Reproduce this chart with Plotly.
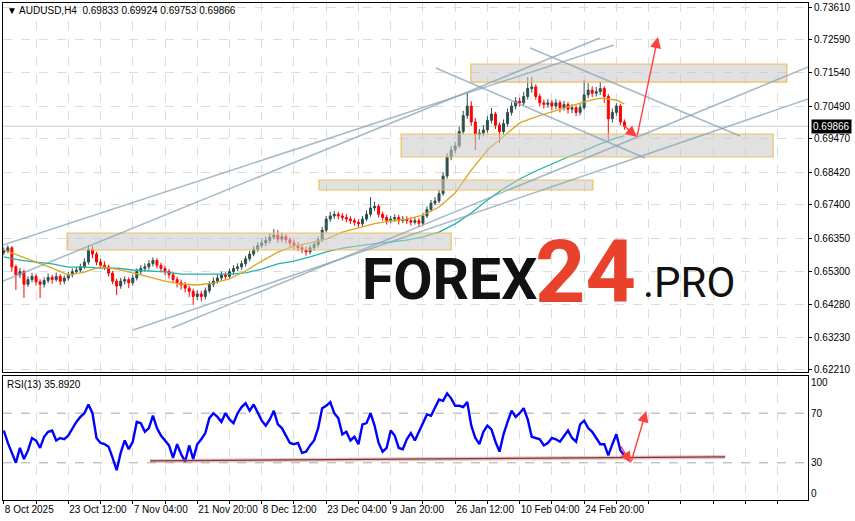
import plotly.graph_objects as go

# ---------------- data ----------------
bar_index = list(range(155))

close_ = [0.6595, 0.6605, 0.6545, 0.6520, 0.6530, 0.6490, 0.6505, 0.6515, 0.6498, 0.6490,
          0.6502, 0.6512, 0.6505, 0.6515, 0.6500, 0.6510, 0.6520, 0.6530, 0.6535, 0.6545,
          0.6560, 0.6600, 0.6585, 0.6560, 0.6550, 0.6545, 0.6525, 0.6500, 0.6485, 0.6500,
          0.6505, 0.6495, 0.6510, 0.6530, 0.6540, 0.6545, 0.6555, 0.6565, 0.6550, 0.6540,
          0.6530, 0.6520, 0.6505, 0.6495, 0.6488, 0.6478, 0.6468, 0.6452, 0.6460, 0.6452,
          0.6470, 0.6490, 0.6500, 0.6510, 0.6520, 0.6515, 0.6530, 0.6540, 0.6545, 0.6555,
          0.6570, 0.6585, 0.6600, 0.6612, 0.6620, 0.6628, 0.6638, 0.6645, 0.6632, 0.6640,
          0.6630, 0.6620, 0.6612, 0.6605, 0.6598, 0.6592, 0.6605, 0.6615, 0.6630, 0.6660,
          0.6695, 0.6705, 0.6710, 0.6705, 0.6700, 0.6695, 0.6690, 0.6685, 0.6680, 0.6695,
          0.6710, 0.6730, 0.6735, 0.6710, 0.6700, 0.6690, 0.6695, 0.6700, 0.6690, 0.6695,
          0.6690, 0.6685, 0.6690, 0.6682, 0.6705, 0.6725, 0.6745, 0.6752, 0.6775, 0.6830,
          0.6890, 0.6912, 0.6925, 0.6970, 0.7020, 0.7050, 0.7000, 0.6960, 0.6965, 0.6975,
          0.7005, 0.7025, 0.6990, 0.6970, 0.6995, 0.7030, 0.7050, 0.7065, 0.7060, 0.7080,
          0.7105, 0.7110, 0.7080, 0.7060, 0.7055, 0.7060, 0.7050, 0.7060, 0.7045, 0.7055,
          0.7040, 0.7045, 0.7030, 0.7045, 0.7085, 0.7100, 0.7090, 0.7095, 0.7105, 0.7080,
          0.7010, 0.7030, 0.7050, 0.7000, 0.69866]

open_ = [0.6590, 0.6595, 0.6605, 0.6545, 0.6520, 0.6530, 0.6490, 0.6505, 0.6515, 0.6498,
         0.6490, 0.6502, 0.6512, 0.6505, 0.6515, 0.6500, 0.6510, 0.6520, 0.6530, 0.6535,
         0.6545, 0.6560, 0.6600, 0.6585, 0.6560, 0.6550, 0.6545, 0.6525, 0.6500, 0.6485,
         0.6500, 0.6505, 0.6495, 0.6510, 0.6530, 0.6540, 0.6545, 0.6555, 0.6565, 0.6550,
         0.6540, 0.6530, 0.6520, 0.6505, 0.6495, 0.6488, 0.6478, 0.6468, 0.6452, 0.6460,
         0.6452, 0.6470, 0.6490, 0.6500, 0.6510, 0.6520, 0.6515, 0.6530, 0.6540, 0.6545,
         0.6555, 0.6570, 0.6585, 0.6600, 0.6612, 0.6620, 0.6628, 0.6638, 0.6645, 0.6632,
         0.6640, 0.6630, 0.6620, 0.6612, 0.6605, 0.6598, 0.6592, 0.6605, 0.6615, 0.6630,
         0.6660, 0.6695, 0.6705, 0.6710, 0.6705, 0.6700, 0.6695, 0.6690, 0.6685, 0.6680,
         0.6695, 0.6710, 0.6730, 0.6735, 0.6710, 0.6700, 0.6690, 0.6695, 0.6700, 0.6690,
         0.6695, 0.6690, 0.6685, 0.6690, 0.6682, 0.6705, 0.6725, 0.6745, 0.6752, 0.6775,
         0.6830, 0.6890, 0.6912, 0.6925, 0.6970, 0.7020, 0.7050, 0.7000, 0.6960, 0.6965,
         0.6975, 0.7005, 0.7025, 0.6990, 0.6970, 0.6995, 0.7030, 0.7050, 0.7065, 0.7060,
         0.7080, 0.7105, 0.7110, 0.7080, 0.7060, 0.7055, 0.7060, 0.7050, 0.7060, 0.7045,
         0.7055, 0.7040, 0.7045, 0.7030, 0.7045, 0.7085, 0.7100, 0.7090, 0.7095, 0.7105,
         0.7080, 0.7010, 0.7030, 0.7050, 0.7000]

high_ = [0.6606, 0.6613, 0.6610, 0.6552, 0.6541, 0.6536, 0.6515, 0.6526, 0.6522, 0.6506,
         0.6512, 0.6524, 0.6520, 0.6527, 0.6522, 0.6518, 0.6530, 0.6540, 0.6545, 0.6555,
         0.6572, 0.6613, 0.6610, 0.6592, 0.6570, 0.6562, 0.6552, 0.6532, 0.6508, 0.6510,
         0.6515, 0.6512, 0.6520, 0.6540, 0.6550, 0.6556, 0.6566, 0.6575, 0.6572, 0.6558,
         0.6548, 0.6538, 0.6528, 0.6514, 0.6505, 0.6498, 0.6486, 0.6476, 0.6472, 0.6470,
         0.6480, 0.6500, 0.6512, 0.6522, 0.6530, 0.6528, 0.6540, 0.6550, 0.6556, 0.6564,
         0.6580, 0.6595, 0.6610, 0.6622, 0.6632, 0.6640, 0.6650, 0.6664, 0.6660, 0.6652,
         0.6648, 0.6638, 0.6630, 0.6622, 0.6614, 0.6608, 0.6614, 0.6625, 0.6640, 0.6670,
         0.6705, 0.6718, 0.6720, 0.6718, 0.6714, 0.6710, 0.6704, 0.6698, 0.6694, 0.6705,
         0.6722, 0.6764, 0.6750, 0.6742, 0.6718, 0.6708, 0.6705, 0.6710, 0.6708, 0.6705,
         0.6704, 0.6700, 0.6700, 0.6698, 0.6715, 0.6735, 0.6755, 0.6764, 0.6786, 0.6842,
         0.6902, 0.6925, 0.6938, 0.6985, 0.7035, 0.7091, 0.7065, 0.7012, 0.6978, 0.6990,
         0.7018, 0.7044, 0.7032, 0.6998, 0.7008, 0.7042, 0.7062, 0.7078, 0.7076, 0.7095,
         0.7141, 0.7141, 0.7118, 0.7088, 0.7070, 0.7072, 0.7068, 0.7072, 0.7068, 0.7066,
         0.7062, 0.7056, 0.7052, 0.7058, 0.7132, 0.7122, 0.7112, 0.7110, 0.7126, 0.7112,
         0.7088, 0.7042, 0.7059, 0.7056, 0.7008]

low_ = [0.6582, 0.6588, 0.6530, 0.6472, 0.6510, 0.6447, 0.6482, 0.6496, 0.6486, 0.6447,
        0.6480, 0.6494, 0.6492, 0.6498, 0.6488, 0.6490, 0.6502, 0.6512, 0.6522, 0.6527,
        0.6538, 0.6552, 0.6572, 0.6550, 0.6540, 0.6535, 0.6515, 0.6490, 0.6456, 0.6476,
        0.6490, 0.6478, 0.6486, 0.6502, 0.6520, 0.6530, 0.6536, 0.6546, 0.6540, 0.6528,
        0.6518, 0.6508, 0.6495, 0.6480, 0.6474, 0.6465, 0.6450, 0.6425, 0.6440, 0.6436,
        0.6442, 0.6462, 0.6482, 0.6492, 0.6502, 0.6505, 0.6508, 0.6520, 0.6532, 0.6536,
        0.6546, 0.6562, 0.6578, 0.6592, 0.6604, 0.6610, 0.6618, 0.6630, 0.6620, 0.6622,
        0.6618, 0.6608, 0.6600, 0.6594, 0.6588, 0.6580, 0.6584, 0.6596, 0.6606, 0.6622,
        0.6652, 0.6686, 0.6696, 0.6694, 0.6690, 0.6685, 0.6680, 0.6674, 0.6670, 0.6672,
        0.6688, 0.6702, 0.6720, 0.6700, 0.6690, 0.6678, 0.6682, 0.6686, 0.6678, 0.6682,
        0.6680, 0.6674, 0.6678, 0.6670, 0.6676, 0.6698, 0.6718, 0.6738, 0.6745, 0.6768,
        0.6822, 0.6880, 0.6902, 0.6918, 0.6962, 0.7010, 0.6988, 0.6912, 0.6945, 0.6955,
        0.6966, 0.6995, 0.6978, 0.6934, 0.6960, 0.6986, 0.7020, 0.7040, 0.7048, 0.7052,
        0.7070, 0.7092, 0.7070, 0.7048, 0.7042, 0.7045, 0.7036, 0.7040, 0.7030, 0.7035,
        0.7026, 0.7028, 0.7018, 0.7020, 0.7038, 0.7075, 0.7078, 0.7080, 0.7085, 0.7060,
        0.6943, 0.6998, 0.7020, 0.6990, 0.69753]

rsi_13 = [56, 46, 38, 30, 42, 33, 40, 50, 48, 42,
          51, 55, 56, 48, 50, 49, 52, 58, 63, 67,
          70, 77, 70, 50, 46, 45, 43, 34, 24, 38,
          48, 41, 47, 63, 62, 55, 58, 68, 58, 52,
          48, 44, 34, 45, 37, 31, 44, 33, 45, 49,
          54, 66, 70, 67, 63, 70, 65, 62, 70, 75,
          78, 72, 77, 70, 64, 60, 65, 72, 61, 58,
          52, 46, 45, 46, 38, 39, 44, 48, 58, 74,
          76, 79, 70, 66, 53, 55, 48, 51, 45, 61,
          62, 70, 60, 46, 39, 42, 56, 52, 42, 41,
          49, 54, 48, 55, 63, 69, 68, 75, 81, 80,
          86, 82, 76, 76, 75, 79, 60, 50, 45, 55,
          60, 57, 47, 39, 53, 63, 72, 67, 70, 74,
          65, 51, 50, 49, 44, 46, 50, 49, 47, 52,
          56, 50, 47, 61, 64, 58, 55, 50, 45, 45,
          36, 45, 53, 40, 35.892]

ma_index = [0, 4, 8, 12, 16, 20, 24, 28, 32, 36, 40, 44, 48, 52, 56, 60, 64, 68, 72, 76,
            80, 84, 88, 92, 96, 100, 104, 108, 112, 116, 120, 124, 128, 132, 136, 140,
            144, 148, 152, 154]
ma_fast = [0.6598, 0.6579, 0.6560, 0.6541, 0.6519, 0.6528, 0.6545, 0.6538, 0.6526, 0.6513,
           0.6500, 0.6491, 0.6488, 0.6494, 0.6507, 0.6532, 0.6563, 0.6591, 0.6610, 0.6620,
           0.6632, 0.6654, 0.6667, 0.6681, 0.6689, 0.6695, 0.6707, 0.6733, 0.6777, 0.6849,
           0.6912, 0.6953, 0.6997, 0.7016, 0.7031, 0.7047, 0.7063, 0.7075, 0.7069, 0.7056]
ma_slow = [0.6576, 0.6566, 0.6560, 0.6554, 0.6544, 0.6544, 0.6541, 0.6541, 0.6535, 0.6532,
           0.6529, 0.6522, 0.6522, 0.6522, 0.6522, 0.6526, 0.6538, 0.6554, 0.6563, 0.6576,
           0.6592, 0.6604, 0.6612, 0.6618, 0.6623, 0.6629, 0.6639, 0.6654, 0.6680, 0.6714,
           0.6755, 0.6790, 0.6821, 0.6846, 0.6868, 0.6890, 0.6909, 0.6931, 0.6950, 0.6956]

label_index = [0, 16, 32, 48, 64, 80, 96, 112, 128, 144]
time_labels = ["8 Oct 2025", "23 Oct 12:00", "7 Nov 04:00", "21 Nov 20:00", "8 Dec 12:00",
               "23 Dec 04:00", "9 Jan 20:00", "26 Jan 12:00", "10 Feb 04:00", "24 Feb 20:00"]
price_ticks = [0.73610, 0.72590, 0.71540, 0.70490, 0.69470, 0.68420, 0.67400,
               0.66350, 0.65300, 0.64280, 0.63230, 0.62210]
last_price = 0.69866

# zones: (x0, x1, low, high)
zones = [(15.7, 111.0, 0.65978, 0.66512),
         (78.2, 146.2, 0.67863, 0.68177),
         (98.6, 190.9, 0.68899, 0.69621),
         (115.9, 194.3, 0.71254, 0.71820)]
# trend lines: (x0, p0, x1, p1)
trend_lines = [(-0.2, 0.66135, 151.4, 0.72417),
               (-0.2, 0.65004, 147.9, 0.72636),
               (107.2, 0.71694, 159.1, 0.68868),
               (130.6, 0.72322, 182.7, 0.69558),
               (41.7, 0.63528, 205.0, 0.72008),
               (32.1, 0.63466, 211.2, 0.71223)]
# forecast arrows: (tail_x, tail_y, head_x, head_y)
price_arrows = [(153.4, 0.69935, 157.1, 0.69527), (157.1, 0.69527, 162.3, 0.72668)]
rsi_arrows = [(152.9, 44.4, 155.6, 29.8), (155.6, 29.8, 159.4, 71.8)]
rsi_support = (36.3, 31.5, 179.0, 34.7)

# ---------------- figure ----------------
W, H = 855, 521
ML, MR, MT, MB = 3, 47, 3, 21
PW, PH = W - ML - MR, H - MT - MB
X_RANGE = [-0.2, -0.2 + PW / 4.03]
FONT = "Liberation Sans, Arial, sans-serif"


def px_x(px):
    return (px - ML) / PW


def px_y(py):
    return (H - MB - py) / PH


fig = go.Figure()

fig.add_trace(go.Candlestick(
    x=bar_index, open=open_, high=high_, low=low_, close=close_,
    increasing=dict(line=dict(color="#2F4F4F", width=1), fillcolor="#2F4F4F"),
    decreasing=dict(line=dict(color="#FF0000", width=1), fillcolor="#FF0000"),
    whiskerwidth=0, hoverinfo="skip", showlegend=False, xaxis="x", yaxis="y"))

fig.add_trace(go.Scatter(x=ma_index, y=ma_slow, mode="lines",
                         line=dict(color="#20B2AA", width=1.3), hoverinfo="skip",
                         showlegend=False, xaxis="x", yaxis="y"))
fig.add_trace(go.Scatter(x=ma_index, y=ma_fast, mode="lines",
                         line=dict(color="#DAA520", width=1.3), hoverinfo="skip",
                         showlegend=False, xaxis="x", yaxis="y"))

fig.add_trace(go.Scatter(x=bar_index, y=rsi_13, mode="lines",
                         line=dict(color="#0000FF", width=2.4), hoverinfo="skip",
                         showlegend=False, xaxis="x2", yaxis="y2"))

shapes = []
shapes.append(dict(type="line", xref="x", yref="y", x0=X_RANGE[0], x1=X_RANGE[1],
                   y0=last_price, y1=last_price, line=dict(color="#C8C8C8", width=1),
                   layer="below"))
for lv in (70, 30):
    shapes.append(dict(type="line", xref="x2", yref="y2", x0=X_RANGE[0], x1=X_RANGE[1],
                       y0=lv, y1=lv, line=dict(color="#A8A8A8", width=1, dash="dash"),
                       layer="below"))
for x0, x1, lo, hi in zones:
    shapes.append(dict(type="rect", xref="x", yref="y", x0=x0, x1=x1, y0=lo, y1=hi,
                       fillcolor="rgba(200,200,200,0.55)",
                       line=dict(color="rgba(240,185,80,0.9)", width=1.2), layer="above"))
for x0, p0, x1, p1 in trend_lines:
    shapes.append(dict(type="line", xref="x", yref="y", x0=x0, y0=p0, x1=x1, y1=p1,
                       line=dict(color="rgba(135,162,180,0.75)", width=1.5), layer="above"))
sx0, sy0, sx1, sy1 = rsi_support
shapes.append(dict(type="line", xref="x2", yref="y2", x0=sx0, y0=sy0, x1=sx1, y1=sy1,
                   line=dict(color="rgba(190,130,130,0.45)", width=4), layer="above"))
shapes.append(dict(type="line", xref="x2", yref="y2", x0=sx0, y0=sy0, x1=sx1, y1=sy1,
                   line=dict(color="#8B2E2E", width=1.2), layer="above"))

annotations = []
for tx, ty, hx, hy in price_arrows:
    annotations.append(dict(x=hx, y=hy, ax=tx, ay=ty, xref="x", yref="y", axref="x", ayref="y",
                            text="", showarrow=True, arrowhead=2, arrowsize=1.6,
                            arrowwidth=1.4, arrowcolor="#FF4040"))
for tx, ty, hx, hy in rsi_arrows:
    annotations.append(dict(x=hx, y=hy, ax=tx, ay=ty, xref="x2", yref="y2", axref="x2",
                            ayref="y2", text="", showarrow=True, arrowhead=2, arrowsize=1.6,
                            arrowwidth=1.4, arrowcolor="#FF4040"))

annotations.append(dict(x=px_x(5), y=px_y(11), xref="paper", yref="paper", xanchor="left",
                        yanchor="middle", showarrow=False,
                        text="▼ AUDUSD,H4  0.69833 0.69924 0.69753 0.69866",
                        font=dict(family=FONT, size=10, color="black")))
annotations.append(dict(x=px_x(5), y=px_y(384), xref="paper", yref="paper", xanchor="left",
                        yanchor="middle", showarrow=False, text="RSI(13) 35.8920",
                        font=dict(family=FONT, size=10, color="black")))
annotations.append(dict(x=1, xshift=3, y=last_price, xref="paper", yref="y", xanchor="left",
                        yanchor="middle", showarrow=False, text="0.69866",
                        bgcolor="black", borderpad=1,
                        font=dict(family=FONT, size=10, color="white")))
# watermark
annotations.append(dict(x=px_x(360), y=px_y(279), xref="paper", yref="paper", xanchor="left",
                        yanchor="middle", showarrow=False, text="<b>FOREX</b>",
                        font=dict(family="Roboto, Arial", size=57, color="#111111")))
annotations.append(dict(x=px_x(533), y=px_y(271), xref="paper", yref="paper", xanchor="left",
                        yanchor="middle", showarrow=False, text="<b>24</b>",
                        font=dict(family="Roboto, Arial", size=88, color="#E8412C")))
annotations.append(dict(x=px_x(641), y=px_y(282), xref="paper", yref="paper", xanchor="left",
                        yanchor="middle", showarrow=False, text=".PRO",
                        font=dict(family="Roboto, Arial", size=42, color="#111111")))

main_bottom = px_y(372)
rsi_top = px_y(376)

grid_ticks = list(range(0, 200, 8))
grid_text = []
for t in grid_ticks:
    grid_text.append(time_labels[label_index.index(t)] if t in label_index else "")

axis_common = dict(showline=True, mirror=True, linecolor="black", linewidth=1, zeroline=False)

fig.update_layout(
    width=W, height=H, margin=dict(l=ML, r=MR, t=MT, b=MB),
    paper_bgcolor="white", plot_bgcolor="white", showlegend=False,
    shapes=shapes, annotations=annotations,
    xaxis=dict(domain=[0, 1], anchor="y", range=X_RANGE, rangeslider=dict(visible=False),
               tickvals=grid_ticks, showticklabels=False, ticks="",
               showgrid=True, gridcolor="#DCDCDC", griddash="dash", gridwidth=1, **axis_common),
    yaxis=dict(domain=[main_bottom, 1], anchor="x", range=[0.62147, 0.73736], side="right",
               tickvals=price_ticks, ticktext=[f"{v:.5f}" for v in price_ticks],
               ticks="outside", ticklen=3, tickcolor="black",
               tickfont=dict(family=FONT, size=10, color="black"),
               showgrid=True, gridcolor="#DCDCDC", griddash="dash", gridwidth=1, **axis_common),
    xaxis2=dict(domain=[0, 1], anchor="y2", range=X_RANGE, matches="x",
                tickvals=grid_ticks, ticktext=grid_text, ticks="outside", ticklen=3,
                tickcolor="black", ticklabelposition="outside right", tickangle=0,
                tickfont=dict(family=FONT, size=10, color="black"),
                showgrid=True, gridcolor="#DCDCDC", griddash="dash", gridwidth=1, **axis_common),
    yaxis2=dict(domain=[0, rsi_top], anchor="x2", range=[0, 100], side="right",
                tickvals=[94.5, 70, 30, 5], ticktext=["100", "70", "30", "0"],
                ticks="", tickfont=dict(family=FONT, size=10, color="black"),
                showgrid=False, **axis_common),
)

fig.write_html("out.html", config={"displayModeBar": False})

# remove the default page margin so the figure sits at the window's top-left corner
with open("out.html", "r", encoding="utf-8") as fh:
    page = fh.read()
page = page.replace("<head>", "<head><style>html,body{margin:0;padding:0;overflow:hidden;}</style>", 1)
with open("out.html", "w", encoding="utf-8") as fh:
    fh.write(page)
